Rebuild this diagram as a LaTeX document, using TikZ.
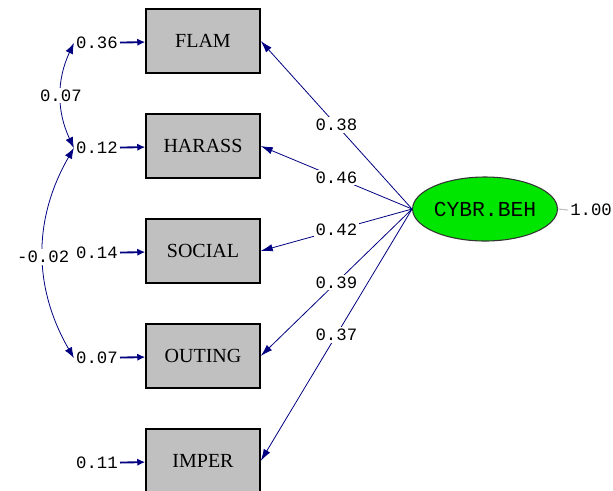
\documentclass[tikz,border=0pt]{standalone}
\usepackage{fontspec}
\setmainfont{Liberation Serif}
\setmonofont{Liberation Mono}
\usetikzlibrary{shapes.geometric,arrows.meta}
\definecolor{pathblue}{RGB}{0,0,128}
\definecolor{boxgray}{RGB}{192,192,192}
\definecolor{latgreen}{RGB}{0,230,0}

\begin{document}
\begin{tikzpicture}[x=0.75pt,y=-0.75pt,
    obs/.style={draw=black,line width=1.1pt,fill=boxgray,minimum width=85.5pt,minimum height=48pt,inner sep=0pt,font=\fontsize{15}{15}\selectfont},
    lat/.style={ellipse,draw=black!80,line width=0.8pt,fill=latgreen,minimum width=84.75pt,minimum height=48pt,inner sep=0pt,font=\ttfamily\fontsize{16}{16}\selectfont},
    num/.style={text=black,font=\ttfamily\fontsize{13}{13}\selectfont,inner sep=1.5pt},
    numw/.style={num,fill=white},
    load/.style={pathblue,line width=0.6pt,-{Latex[length=9pt,width=5.5pt]}},
    err/.style={pathblue,line width=1.4pt,-{Latex[length=6pt,width=5.5pt]}},
    cov/.style={pathblue,line width=0.6pt,{Latex[length=8pt,width=6pt]}-{Latex[length=8pt,width=6pt]}}]
    \useasboundingbox (0,0) rectangle (613,490); % page size of the reference
    \node[obs] (flam) at (203,41) {FLAM};
    \node[obs] (harass) at (203,146) {HARASS};
    \node[obs] (social) at (203,251) {SOCIAL};
    \node[obs] (outing) at (203,356) {OUTING};
    \node[obs] (imper) at (203,461) {IMPER};
    \node[lat] (beh) at (485,209) {CYBR.BEH};
    % error variances on the left
    \node[num,anchor=east] (e1) at (120,43) {0.36};
    \node[num,anchor=east] (e2) at (120,148) {0.12};
    \node[num,anchor=east] (e3) at (120,253) {0.14};
    \node[num,anchor=east] (e4) at (120,358) {0.07};
    \node[num,anchor=east] (e5) at (120,463) {0.11};
    \draw[err] (e1) -- (flam);
    \draw[err] (e2) -- (harass);
    \draw[err] (e3) -- (social);
    \draw[err] (e4) -- (outing);
    \draw[err] (e5) -- (imper);
    % covariances between errors
    \draw[cov] (e1.west) to[out=245,in=115] node[numw] {0.07} (e2.west);
    \draw[cov] (e2.west) to[out=240,in=120] node[numw,pos=0.52] {-0.02} (e4.west);
    % loadings
    \draw[load] (beh.west) -- node[numw] {0.38} (flam.east);
    \draw[load] (beh.west) -- node[numw] {0.46} (harass.east);
    \draw[load] (beh.west) -- node[numw] {0.42} (social.east);
    \draw[load] (beh.west) -- node[numw] {0.39} (outing.east);
    \draw[load] (beh.west) -- node[numw] {0.37} (imper.east);
    % latent variance
    \node[num,anchor=west] (v) at (568,210) {1.00};
    \draw[gray!50,line width=0.8pt] (beh.east) -- (v.west);
\end{tikzpicture}
\end{document}
